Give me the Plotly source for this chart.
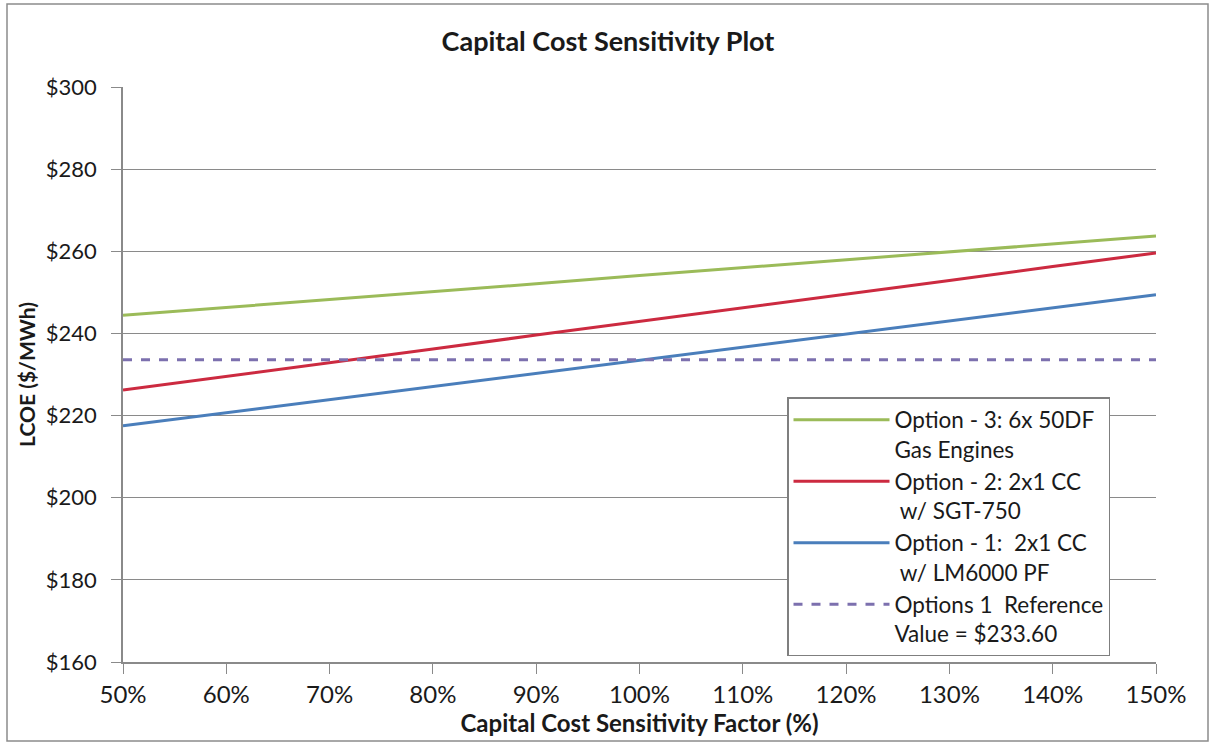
import plotly.graph_objects as go

# Capital cost sensitivity factor (fraction of base capital cost)
factor = [0.5, 0.6, 0.7, 0.8, 0.9, 1.0, 1.1, 1.2, 1.3, 1.4, 1.5]

# Levelized cost of energy, $/MWh
option3_gas_engines = [244.4, 246.3, 248.3, 250.2, 252.1, 254.1, 256.0, 257.9, 259.8, 261.8, 263.7]
option2_sgt750 = [226.2, 229.5, 232.9, 236.2, 239.6, 242.9, 246.2, 249.6, 252.9, 256.3, 259.6]
option1_lm6000 = [217.5, 220.7, 223.9, 227.1, 230.3, 233.5, 236.6, 239.8, 243.0, 246.2, 249.4]
reference_value = 233.60

NB = "\u00a0"
names = [
    "Option - 3: 6x 50DF<br>Gas Engines",
    "Option - 2: 2x1 CC<br>" + NB + "w/ SGT-750",
    "Option - 1:" + NB + NB + "2x1 CC<br>" + NB + "w/ LM6000 PF",
    "Options 1" + NB + NB + "Reference<br>Value = $233.60",
]

FONT = "Lato, 'Open Sans', sans-serif"
GRID = "#8a8a8a"

fig = go.Figure()
series = [
    (option3_gas_engines, "#9BBB59", "solid"),
    (option2_sgt750, "#CC2A40", "solid"),
    (option1_lm6000, "#4A7EBB", "solid"),
    ([reference_value] * len(factor), "#7C70AE", "dash"),
]
for i, (vals, color, dash) in enumerate(series):
    fig.add_trace(go.Scatter(
        x=factor, y=vals, mode="lines", name=names[i],
        legendgroup=f"g{i}",
        line=dict(color=color, width=3, dash=dash),
    ))

W, H = 1216, 743
L, R, T, B = 123, 60, 87, 81
pw, ph = W - L - R, H - T - B

def px_x(p):
    return (p - L) / pw

def px_y(p):
    return (H - B - p) / ph

fig.update_layout(
    width=W, height=H,
    margin=dict(l=L, r=R, t=T, b=B),
    paper_bgcolor="white", plot_bgcolor="white",
    font=dict(family=FONT, color="#1a1a1a"),
    title=dict(text="<b>Capital Cost Sensitivity Plot</b>", x=0.5, xanchor="center",
               y=1 - 42 / H, yanchor="middle", font=dict(size=27, family=FONT)),
    xaxis=dict(
        range=[0.5, 1.5], tickvals=factor, tickformat=".0%",
        showgrid=False, showline=True, linecolor=GRID, linewidth=1.5,
        ticks="outside", ticklen=10, tickcolor=GRID,
        tickfont=dict(size=24, family=FONT),
        title=dict(text="<b>Capital Cost Sensitivity Factor (%)</b>",
                   font=dict(size=24, family=FONT), standoff=7),
        zeroline=False,
    ),
    yaxis=dict(
        range=[160, 300], dtick=20, tickprefix="$",
        showgrid=True, gridcolor=GRID, gridwidth=1.2,
        showline=True, linecolor=GRID, linewidth=1.5,
        ticks="outside", ticklen=10, tickcolor=GRID, ticklabelstandoff=10,
        tickfont=dict(size=22, family=FONT),
        title=dict(text="<b>LCOE ($/MWh)</b>", font=dict(size=21, family=FONT), standoff=4),
        zeroline=False,
    ),
    legend=dict(
        x=px_x(787), y=px_y(397), xanchor="left", yanchor="top",
        bgcolor="white", bordercolor="#7f7f7f", borderwidth=1.5,
        font=dict(size=22.5, family=FONT, color="#1a1a1a"),
        traceorder="grouped", tracegroupgap=0, valign="top", itemwidth=96,
        entrywidth=352, entrywidthmode="pixels",
    ),
    showlegend=True,
)

# outer chart frame
fig.add_shape(type="rect", xref="paper", yref="paper",
              x0=px_x(7), x1=px_x(1208), y0=px_y(741), y1=px_y(4),
              line=dict(color="#8c8c8c", width=1.5), layer="below")

fig.write_html("out.html")
